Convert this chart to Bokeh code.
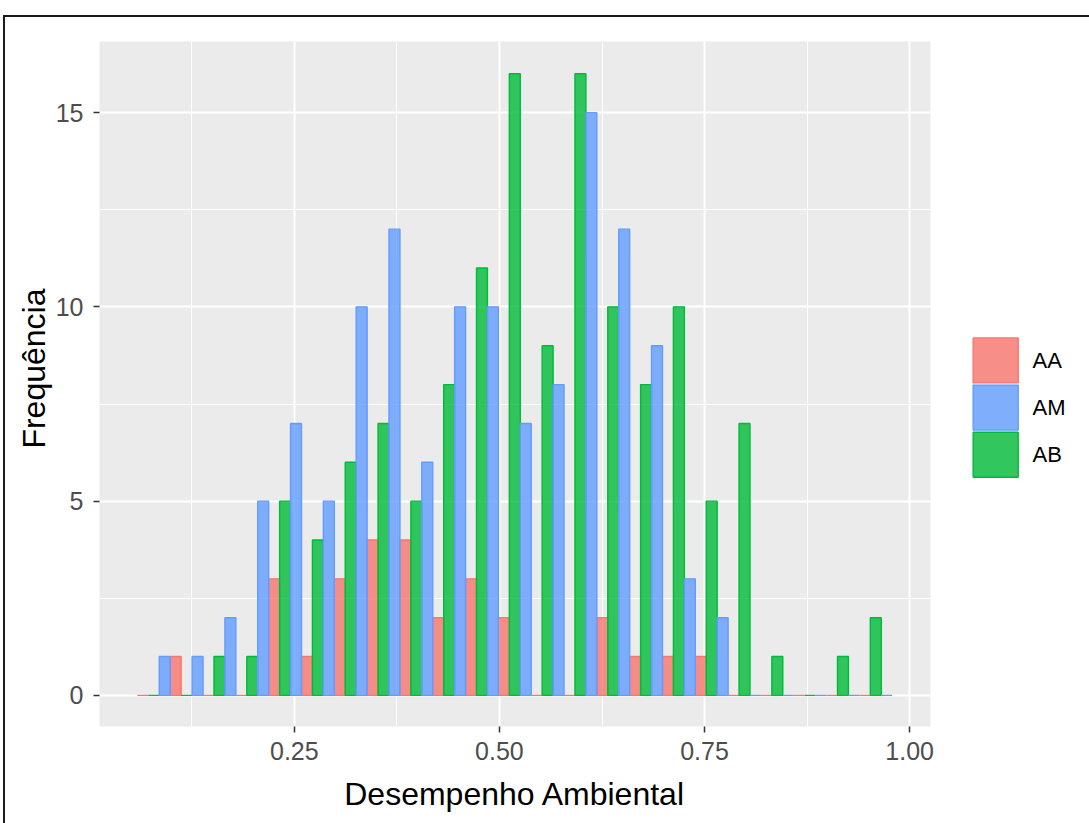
from bokeh.plotting import figure
from bokeh.layouts import row
from bokeh.models import Range1d, FixedTicker, ColumnDataSource, Title
from bokeh.core.properties import value
from bokeh.embed import file_html
from bokeh.resources import INLINE

# ---- data ----
bin_centers = [0.0787, 0.1187, 0.1587, 0.1987, 0.2387, 0.2787, 0.3187, 0.3587,
               0.3987, 0.4387, 0.4787, 0.5187, 0.5587, 0.5987, 0.6387, 0.6787,
               0.7187, 0.7587, 0.7987, 0.8387, 0.8787, 0.9187, 0.9587]
bin_width = 0.04
AA = [0, 1, 0, 0, 3, 1, 3, 4, 4, 2, 3, 2, 0, 0, 2, 1, 1, 1, 0, 0, 0, 0, 0]
AM = [1, 1, 2, 5, 7, 5, 10, 12, 6, 10, 10, 7, 8, 15, 12, 9, 3, 2, 0, 0, 0, 0, 0]
AB = [0, 0, 1, 1, 5, 4, 6, 7, 5, 8, 11, 16, 9, 16, 10, 8, 10, 5, 7, 1, 0, 1, 2]
groups = ["AA", "AM", "AB"]
colors = {"AA": "#F8766D", "AM": "#619CFF", "AB": "#00BA38"}
dodge_order = ["AA", "AB", "AM"]   # left-to-right order inside a bin
series = {"AA": AA, "AM": AM, "AB": AB}

x_ticks = [0.25, 0.5, 0.75, 1.0]
x_minor = [0.125, 0.375, 0.625, 0.875]
y_ticks = [0, 5, 10, 15]
y_minor = [2.5, 7.5, 12.5]

FONT = "Liberation Sans"
H = 806
BT, BB = 24, 97          # top / bottom borders (frame is H - BT - BB tall)
FH = H - BT - BB

p = figure(width=940, height=H, output_backend="svg", toolbar_location=None,
           x_range=Range1d(0.0125, 1.0254), y_range=Range1d(-0.8, 16.83),
           min_border_left=94, min_border_right=15, min_border_top=BT,
           min_border_bottom=BB)
p.background_fill_color = "#EBEBEB"
p.border_fill_color = "white"
p.outline_line_color = None

sub_w = bin_width / 3.0
for i, g in enumerate(dodge_order):
    off = (i - 1) * sub_w
    src = ColumnDataSource(dict(x=[c + off for c in bin_centers], top=series[g]))
    p.vbar(x="x", top="top", bottom=0, width=sub_w, source=src,
           fill_color=colors[g], fill_alpha=0.8,
           line_color=colors[g], line_width=1.4)

p.xaxis.ticker = FixedTicker(ticks=x_ticks, minor_ticks=x_minor)
p.yaxis.ticker = FixedTicker(ticks=y_ticks, minor_ticks=y_minor)
p.xaxis.major_label_overrides = {0.25: "0.25", 0.5: "0.50", 0.75: "0.75", 1.0: "1.00"}
p.yaxis.major_label_overrides = {0: "0", 5: "5", 10: "10", 15: "15"}
for ax in (p.xaxis, p.yaxis):
    ax.axis_line_color = None
    ax.major_tick_line_color = "#333333"
    ax.major_tick_line_width = 1.5
    ax.major_tick_out = 6
    ax.major_tick_in = 0
    ax.minor_tick_line_color = None
    ax.major_label_text_font = FONT
    ax.major_label_text_font_size = "25px"
    ax.major_label_text_color = "#4D4D4D"
    ax.axis_label_text_font = FONT
    ax.axis_label_text_font_size = "32px"
    ax.axis_label_text_font_style = "normal"
    ax.axis_label_text_color = "black"
p.xaxis.axis_label = "Desempenho Ambiental"
p.xaxis.major_label_standoff = 9
p.yaxis.major_label_standoff = 10
p.xaxis.axis_label_standoff = 13

ytitle = Title(text="Frequência", align="right", offset=247, standoff=2,
               text_font=FONT, text_font_size="32px", text_font_style="normal",
               text_color="black")
p.add_layout(ytitle, "left")

for gr in (p.xgrid, p.ygrid):
    gr.grid_line_color = "white"
    gr.grid_line_width = 2
    gr.minor_grid_line_color = "white"
    gr.minor_grid_line_width = 1

# ---- legend panel (separate figure; its frame is aligned with the main frame) ----
LW = 144
lg = figure(width=LW, height=H, output_backend="svg", toolbar_location=None,
            x_range=Range1d(0, LW), y_range=Range1d(FH, 0),
            x_axis_location=None, y_axis_location=None,
            min_border=0, min_border_left=0, min_border_right=0,
            min_border_top=BT, min_border_bottom=BB)
lg.grid.visible = False
lg.outline_line_color = None
lg.background_fill_color = "white"
lg.border_fill_color = "white"

key_x0, key_x1 = 27.0, 73.4
key_top0, key_h, key_gap = 295.7, 46.4, 0.8
for k, g in enumerate(groups):
    t = key_top0 + k * (key_h + key_gap)
    lg.quad(left=[key_x0], right=[key_x1], top=[t], bottom=[t + key_h],
            fill_color="#F2F2F2", line_color=None)
    lg.quad(left=[key_x0 + 0.7], right=[key_x1 - 0.7], top=[t + 0.7], bottom=[t + key_h - 0.7],
            fill_color=colors[g], fill_alpha=0.8, line_color=colors[g], line_width=1.4)
    lg.text(x=[87.0], y=[t + key_h / 2], text=[g], text_font=value(FONT),
            text_font_size="22px", text_baseline="middle", text_align="left",
            text_color="black")

lay = row(p, lg, spacing=0)
lay.styles = {"margin-left": "3px", "margin-top": "15px",
              "border-left": "2px solid #1a1a1a", "border-top": "2px solid #1a1a1a"}

open("out.html", "w").write(file_html(lay, INLINE))
